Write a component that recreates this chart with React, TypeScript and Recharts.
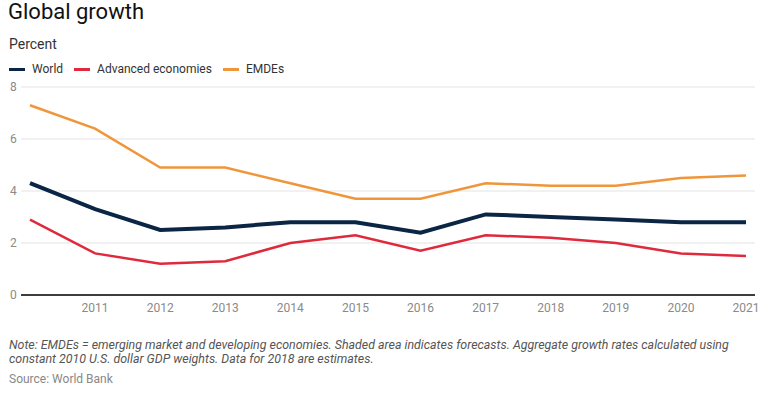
import React from 'react';
import { LineChart, Line, XAxis, YAxis, CartesianGrid } from 'recharts';

const YEARS = [2010, 2011, 2012, 2013, 2014, 2015, 2016, 2017, 2018, 2019, 2020, 2021];
const WORLD = [4.3, 3.3, 2.5, 2.6, 2.8, 2.8, 2.4, 3.1, 3.0, 2.9, 2.8, 2.8];
const ADVANCED = [2.9, 1.6, 1.2, 1.3, 2.0, 2.3, 1.7, 2.3, 2.2, 2.0, 1.6, 1.5];
const EMDES = [7.3, 6.4, 4.9, 4.9, 4.3, 3.7, 3.7, 4.3, 4.2, 4.2, 4.5, 4.6];
const X_TICKS = [2011, 2012, 2013, 2014, 2015, 2016, 2017, 2018, 2019, 2020, 2021];
const Y_TICKS = [0, 2, 4, 6, 8];

const COLORS = {
    world: '#0b2545',
    advanced: '#de2a3c',
    emdes: '#f0963a',
};

const data = YEARS.map((year, i) => ({
    year,
    world: WORLD[i],
    advanced: ADVANCED[i],
    emdes: EMDES[i],
}));

const LEGEND = [
    { key: 'world', label: 'World', color: COLORS.world },
    { key: 'advanced', label: 'Advanced economies', color: COLORS.advanced },
    { key: 'emdes', label: 'EMDEs', color: COLORS.emdes },
];

// y labels sit left-aligned at the page edge
const YTick = ({ y, payload }: { y?: number; payload?: { value: number } }) => (
    <text x={10} y={y} dy={4} textAnchor="start" fontSize={12} fill="#8a8a8a" fontFamily="Roboto">
        {payload?.value}
    </text>
);

export default function App() {
    return (
        <div style={{ position: 'absolute', left: 0, top: 0, width: 767, height: 394, fontFamily: 'Roboto', background: '#fff' }}>
            <div style={{ position: 'absolute', left: 8, top: 1, fontSize: 22, lineHeight: '22px', color: '#111' }}>
                Global growth
            </div>
            <div style={{ position: 'absolute', left: 9, top: 37, fontSize: 14, lineHeight: '14px', color: '#333' }}>
                Percent
            </div>
            <div style={{ position: 'absolute', left: 9, top: 63, fontSize: 12, lineHeight: '13px', color: '#333', display: 'flex', alignItems: 'center' }}>
                {LEGEND.map((item) => (
                    <div key={item.key} style={{ display: 'flex', alignItems: 'center', marginRight: 11 }}>
                        <span style={{ display: 'inline-block', width: 16, height: 3, background: item.color, marginRight: 7 }} />
                        <span>{item.label}</span>
                    </div>
                ))}
            </div>

            <div style={{ position: 'absolute', left: 0, top: 0 }}>
                <LineChart width={767} height={394} data={data} margin={{ top: 87, right: 12, left: 0, bottom: 69 }}>
                    <CartesianGrid vertical={false} stroke="#e3e3e3" />
                    <XAxis
                        dataKey="year"
                        type="number"
                        domain={[2010, 2021]}
                        ticks={X_TICKS}
                        padding={{ left: 9, right: 9 }}
                        height={30}
                        tickLine={false}
                        axisLine={{ stroke: '#000', strokeWidth: 1.5 }}
                        tick={{ fontSize: 12, fill: '#8a8a8a', fontFamily: 'Roboto' }}
                        interval={0}
                    />
                    <YAxis
                        domain={[0, 8]}
                        ticks={Y_TICKS}
                        width={21}
                        axisLine={false}
                        tickLine={false}
                        tick={<YTick />}
                    />
                    <Line type="linear" dataKey="emdes" stroke={COLORS.emdes} strokeWidth={2.5} dot={false} isAnimationActive={false} />
                    <Line type="linear" dataKey="advanced" stroke={COLORS.advanced} strokeWidth={2.5} dot={false} isAnimationActive={false} />
                    <Line type="linear" dataKey="world" stroke={COLORS.world} strokeWidth={4} dot={false} isAnimationActive={false} />
                </LineChart>
            </div>

            <div style={{ position: 'absolute', left: 9, top: 338, width: 745, fontSize: 12.4, lineHeight: '14px', fontStyle: 'italic', color: '#555' }}>
                Note: EMDEs = emerging market and developing economies. Shaded area indicates forecasts. Aggregate growth rates calculated using constant 2010 U.S. dollar GDP weights. Data for 2018 are estimates.
            </div>
            <div style={{ position: 'absolute', left: 9, top: 373, fontSize: 12, lineHeight: '12px', color: '#888' }}>
                Source: World Bank
            </div>
        </div>
    );
}
